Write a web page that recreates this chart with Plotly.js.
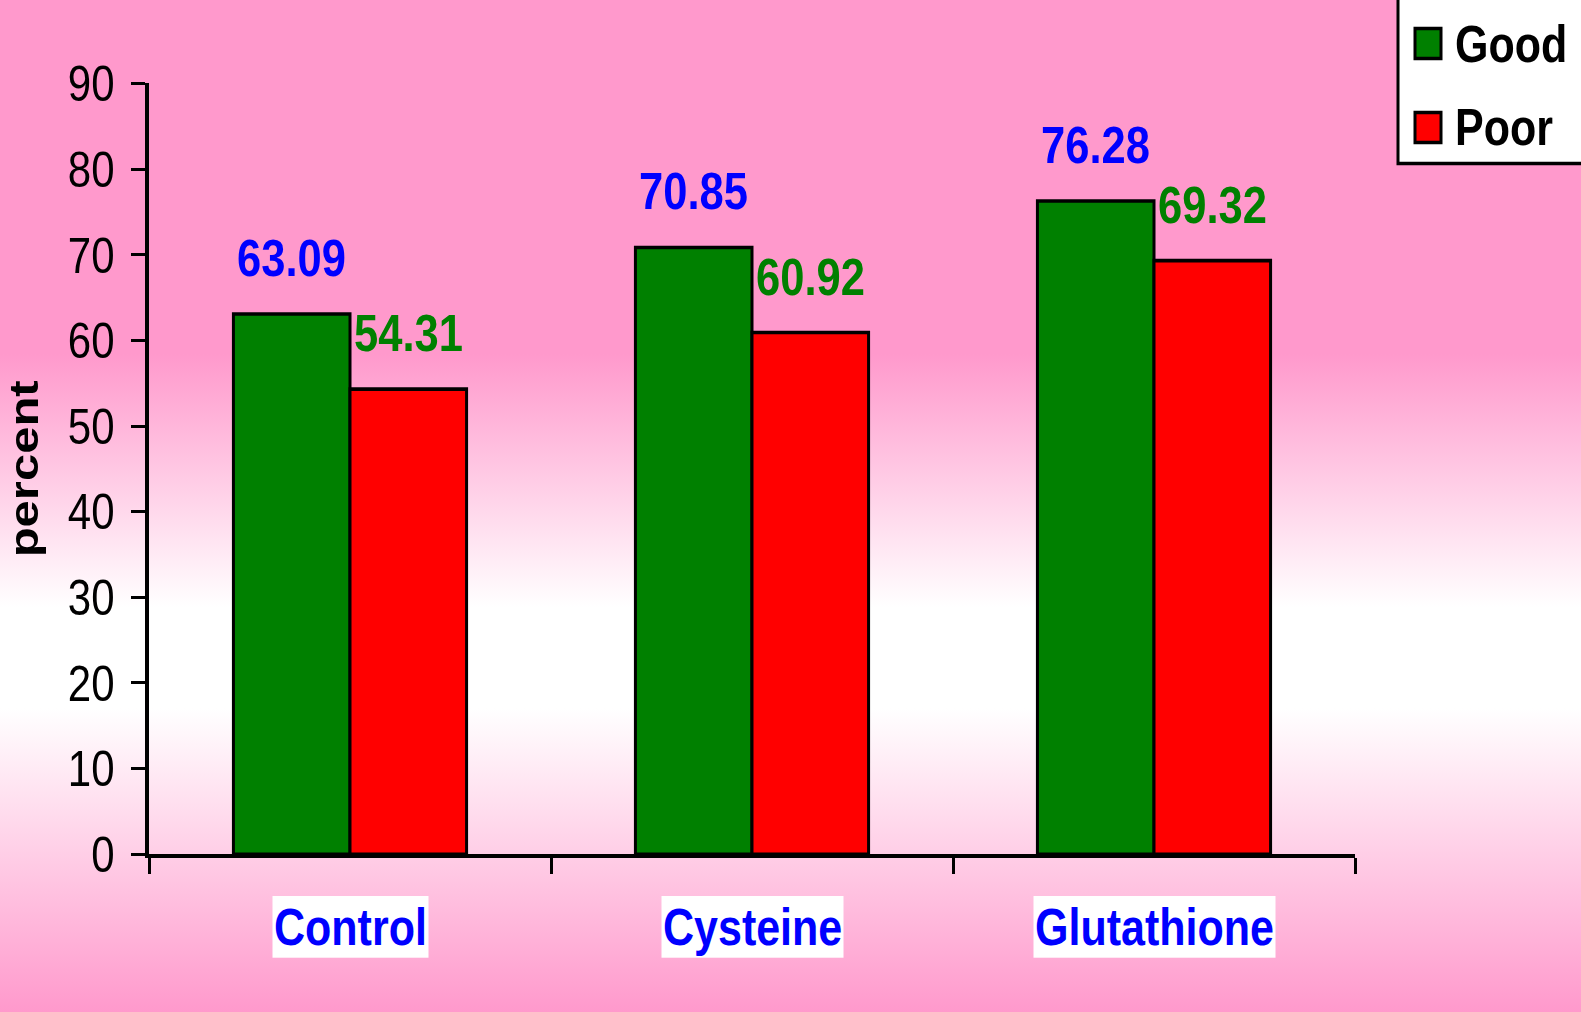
<!DOCTYPE html>
<html>
<head>
<meta charset="utf-8">
<script src="https://cdn.plot.ly/plotly-3.0.1.min.js"></script>
<style>
  html, body { margin: 0; padding: 0; }
  body {
    width: 1581px; height: 1012px; overflow: hidden;
    background: linear-gradient(to bottom, #FF99CC 0%, #FF99CC 35%, #FFFFFF 60%, #FFFFFF 70%, #FF99CC 100%);
  }
  #chart { width: 1581px; transform-origin: 0 0; }
</style>
</head>
<body>
<div id="chart"></div>
<script>
// ---- data ----
const categories = ["Control", "Cysteine", "Glutathione"];
const goodValues = [63.09, 70.85, 76.28];
const poorValues = [54.31, 60.92, 69.32];
const seriesNames = ["Good", "Poor"];
const yTickValues = [0, 10, 20, 30, 40, 50, 60, 70, 80, 90];
const yAxisTitle = "percent";

// ---- layout geometry (final picture pixels) ----
const S = 1.21;                 // the reference chart is shown stretched vertically
const W = 1581, H = 1012;
const MF = { l: 149, r: 226, t: 84, b: 157 };
const plotW = W - MF.l - MF.r, plotH = H - MF.t - MF.b;
const px2x = p => (p - MF.l) / plotW;
const px2y = p => (H - MF.b - p) / plotH;
const font = "Liberation Sans, Arial, sans-serif";
const GREEN = "#008000", RED = "#FF0000", BLUE = "#0000FF";

document.getElementById("chart").style.height = (H / S) + "px";
document.getElementById("chart").style.transform = "scaleY(" + S + ")";

const barLine = { color: "#000000", width: 3 };
const traces = [
  { type: "bar", name: seriesNames[0], x: categories, y: goodValues,
    marker: { color: GREEN, line: barLine }, showlegend: false },
  { type: "bar", name: seriesNames[1], x: categories, y: poorValues,
    marker: { color: RED, line: barLine }, showlegend: false }
];

const bargap = 0.42;
const barOffsetPx = (1 - bargap) / 4 * (plotW / categories.length);

const annotations = [];
categories.forEach((c, i) => {
  annotations.push({ x: c, y: goodValues[i], xref: "x", yref: "y", text: "<b>" + goodValues[i].toFixed(2) + "</b>",
    showarrow: false, xshift: -barOffsetPx, yshift: 56 / S, yanchor: "middle",
    font: { family: font, size: 43.5, color: BLUE } });
  annotations.push({ x: c, y: poorValues[i], xref: "x", yref: "y", text: "<b>" + poorValues[i].toFixed(2) + "</b>",
    showarrow: false, xshift: barOffsetPx, yshift: 56 / S, yanchor: "middle",
    font: { family: font, size: 43.5, color: GREEN } });
  annotations.push({ x: c, xref: "x", y: px2y(928), yref: "paper", text: "<b>" + c + "</b>",
    showarrow: false, yanchor: "middle", bgcolor: "#FFFFFF", borderpad: 1,
    font: { family: font, size: 43, color: BLUE } });
});

// legend (drawn as layout items to match the large swatches)
const legendColors = [GREEN, RED];
const legendCentersPx = [44, 128];
const shapes = [
  { type: "rect", xref: "paper", yref: "paper", x0: px2x(1398), x1: px2x(1590), y0: px2y(164), y1: px2y(-10),
    fillcolor: "#FFFFFF", line: { color: "#000000", width: 3 }, layer: "above" }
];
seriesNames.forEach((n, i) => {
  const cy = legendCentersPx[i];
  shapes.push({ type: "rect", xref: "paper", yref: "paper", x0: px2x(1415), x1: px2x(1441),
    y0: px2y(cy + 15), y1: px2y(cy - 15), fillcolor: legendColors[i],
    line: { color: "#000000", width: 3 }, layer: "above" });
  annotations.push({ xref: "paper", yref: "paper", x: px2x(1453), y: px2y(cy), xanchor: "left", yanchor: "middle",
    text: "<b>" + n + "</b>", showarrow: false, font: { family: font, size: 43, color: "#000000" } });
});

const layout = {
  width: W, height: H / S,
  margin: { l: MF.l, r: MF.r, t: MF.t / S, b: MF.b / S },
  paper_bgcolor: "rgba(0,0,0,0)",
  plot_bgcolor: "rgba(0,0,0,0)",
  barmode: "group",
  bargap: bargap,
  bargroupgap: 0,
  showlegend: false,
  xaxis: {
    type: "category", range: [-0.5, categories.length - 0.5],
    showticklabels: false, tickson: "boundaries",
    ticks: "outside", ticklen: 16 / S, tickwidth: 3, tickcolor: "#000000",
    showline: true, linewidth: 3.4, linecolor: "#000000",
    showgrid: false, zeroline: false, fixedrange: true
  },
  yaxis: {
    range: [0, 90], tickmode: "array", tickvals: yTickValues,
    ticks: "outside", ticklen: 14, tickwidth: 3 / S, tickcolor: "#000000",
    ticklabelstandoff: 8,
    tickfont: { family: font, size: 42, color: "#000000" },
    showline: true, linewidth: 4, linecolor: "#000000",
    showgrid: false, zeroline: false, fixedrange: true,
    title: { text: "<b>" + yAxisTitle + "</b>", standoff: 18,
      font: { family: font, size: 40.5, color: "#000000" } }
  },
  annotations: annotations,
  shapes: shapes
};

Plotly.newPlot("chart", traces, layout, { staticPlot: true, displayModeBar: false });
</script>
</body>
</html>
